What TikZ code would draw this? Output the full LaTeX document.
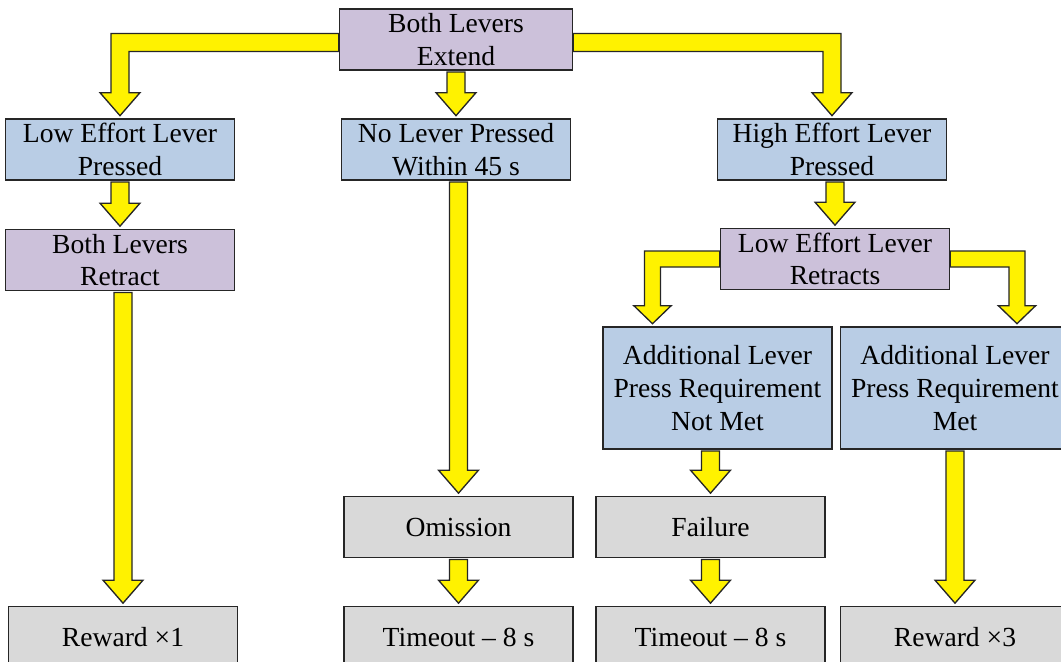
\documentclass[tikz,border=0pt]{standalone}
\usepackage{fontspec}
\setmainfont{Liberation Serif}
\usetikzlibrary{calc}
\definecolor{boxpurple}{RGB}{204,193,218}
\definecolor{boxblue}{RGB}{185,205,229}
\definecolor{boxgray}{RGB}{217,217,217}
% sizes of the block arrows: half shaft, half head, head length
\def\sw{6.75pt}
\def\hw{15pt}
\def\hl{17.25pt}
\newcommand{\downarr}[2]{
  \draw[fatarrow] let \p1=($(#1)+(0pt,-1pt)$), \p2=($(#2)+(0pt,2pt)$) in
    (\x2-\sw,\y1) -- (\x2+\sw,\y1) -- (\x2+\sw,\y2+\hl) -- (\x2+\hw,\y2+\hl)
    -- (\x2,\y2) -- (\x2-\hw,\y2+\hl) -- (\x2-\sw,\y2+\hl) -- cycle;
}
\newcommand{\elbowarr}[2]{
  \draw[fatarrow] let \p1=(#1), \p2=($(#2)+(0pt,2pt)$), \n1={sign(\x2-\x1)} in
    (\x1,\y1+\sw) -- ({\x2+(\n1)*\sw},\y1+\sw) -- ({\x2+(\n1)*\sw},\y2+\hl)
    -- ({\x2+(\n1)*\hw},\y2+\hl) -- (\x2,\y2) -- ({\x2-(\n1)*\hw},\y2+\hl)
    -- ({\x2-(\n1)*\sw},\y2+\hl) -- ({\x2-(\n1)*\sw},\y1-\sw) -- (\x1,\y1-\sw) -- cycle;
}
\begin{document}
\begin{tikzpicture}[x=0.75pt,y=-0.75pt,
  box/.style={draw=black!85,line width=1pt,align=center,inner sep=0pt,
    minimum width=171.75pt,minimum height=45.75pt,
    font=\fontsize{20.7}{24.5}\selectfont},
  stage/.style={box,fill=boxpurple},
  choice/.style={box,fill=boxblue},
  result/.style={box,fill=boxgray},
  fatarrow/.style={fill=yellow,draw=black!85,line width=1pt,line join=miter}]
\useasboundingbox[fill=white] (0,0) rectangle (1061,661);
\clip (0,0) rectangle (1061,661);

\node[stage,minimum width=174.75pt] (extend) at (456,39.5) {Both Levers\\Extend};
\node[choice] (lowpress) at (120,149.5) {Low Effort Lever\\Pressed};
\node[choice] (nopress) at (456,149.5) {No Lever Pressed\\Within 45 s};
\node[choice] (highpress) at (832,149.5) {High Effort Lever\\Pressed};
\node[stage] (retract) at (120,260) {Both Levers\\Retract};
\node[stage] (lowretract) at (835,259) {Low Effort Lever\\Retracts};
\node[choice,minimum height=91.5pt] (notmet) at (717.5,388) {Additional Lever\\Press Requirement\\Not Met};
\node[choice,minimum height=91.5pt] (met) at (955,388) {Additional Lever\\Press Requirement\\Met};
\node[result] (omission) at (458.5,527) {Omission};
\node[result] (failure) at (710.5,527) {Failure};
\node[result] (timeout1) at (458.5,637) {Timeout – 8 s};
\node[result] (timeout2) at (710.5,637) {Timeout – 8 s};
\node[result] (reward1) at (123,637) {Reward ×1};
\node[result] (reward3) at (955,637) {Reward ×3};

\elbowarr{[yshift=-2.25pt]extend.west}{lowpress.north}
\downarr{extend.south}{nopress.north}
\elbowarr{[yshift=-2.25pt]extend.east}{highpress.north}
\downarr{lowpress.south}{retract.north}
\downarr{nopress.south}{omission.north}
\downarr{highpress.south}{lowretract.north}
\downarr{retract.south}{reward1.north}
{\def\sw{6pt}\def\hw{14pt}\def\hl{13.5pt}
\elbowarr{lowretract.west}{[xshift=-48.75pt]notmet.north}
\elbowarr{lowretract.east}{[xshift=46.5pt]met.north}}
\downarr{notmet.south}{failure.north}
\downarr{met.south}{reward3.north}
\downarr{omission.south}{timeout1.north}
\downarr{failure.south}{timeout2.north}
\end{tikzpicture}
\end{document}
